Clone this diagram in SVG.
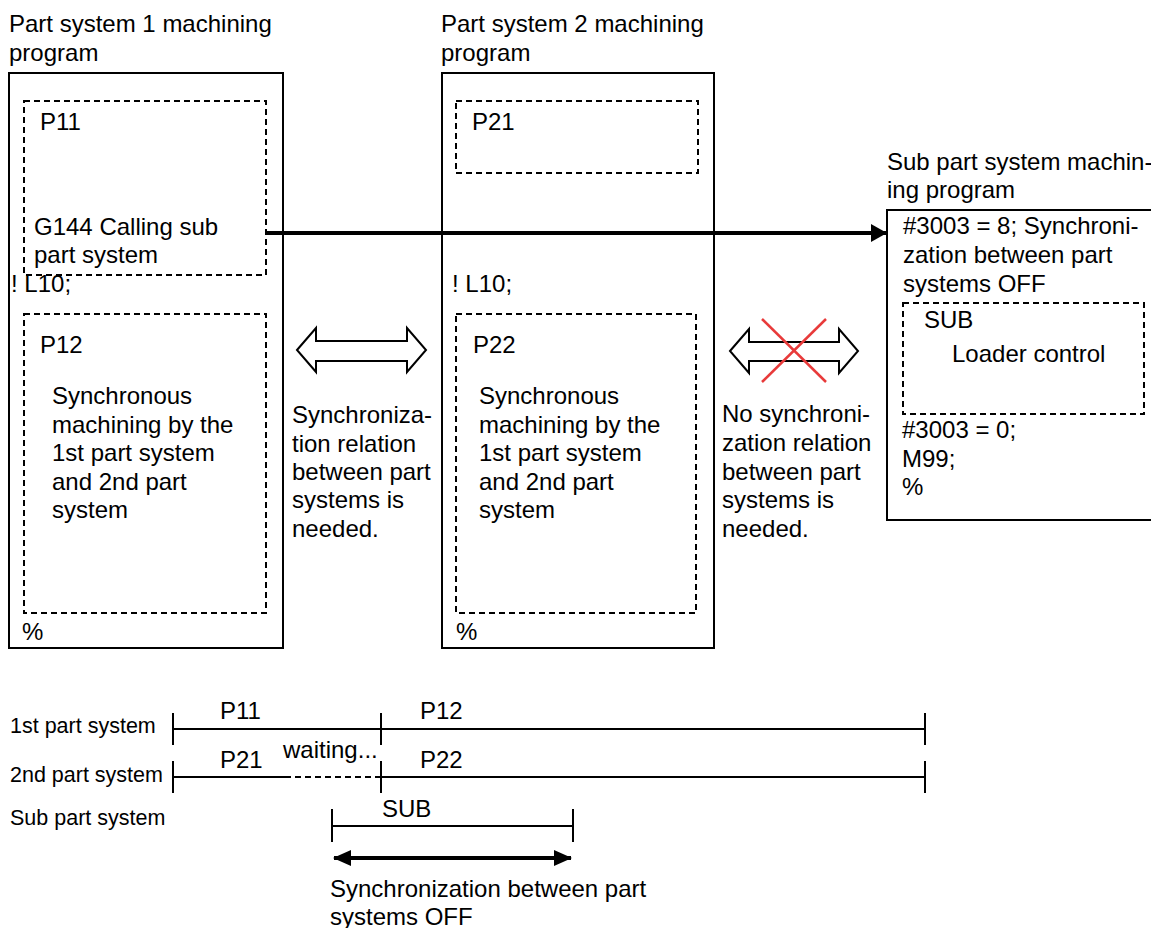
<svg xmlns="http://www.w3.org/2000/svg" width="1151" height="928" viewBox="0 0 1151 928">
<defs>
<style>
text{font-family:"Liberation Sans",Arial,sans-serif;font-size:24px;fill:#000}
.sm{font-size:21.5px}
.box{fill:none;stroke:#000;stroke-width:2}
.dash{fill:none;stroke:#000;stroke-width:2;stroke-dasharray:6 4}
.ln{fill:none;stroke:#000;stroke-width:2}
.hollow{fill:#fff;stroke:#000;stroke-width:2;stroke-linejoin:miter}
.x{stroke:#e83a3a;stroke-width:2.5}
</style>
<marker id="ah" markerWidth="16" markerHeight="18" refX="16" refY="9" orient="auto" markerUnits="userSpaceOnUse">
<path d="M0,0 L16,9 L0,18 Z" fill="#000"/>
</marker>
<marker id="ah2" markerWidth="18" markerHeight="16" refX="17" refY="8" orient="auto-start-reverse" markerUnits="userSpaceOnUse">
<path d="M0,0 L18,8 L0,16 Z" fill="#000"/>
</marker>
</defs>
<rect width="1151" height="928" fill="#fff"/>

<g id="prog1">
<text x="9" y="32">Part system 1 machining</text>
<text x="9" y="61">program</text>
<rect class="box" x="9" y="73" width="274" height="575"/>
<g id="p11">
<rect class="dash" x="24" y="101" width="242" height="174"/>
<text x="40" y="130">P11</text>
<text x="34" y="235">G144 Calling sub</text>
<text x="34" y="263">part system</text>
</g>
<text x="11" y="292">! L10;</text>
<g id="p12">
<rect class="dash" x="24" y="314" width="242" height="299"/>
<text x="40" y="353">P12</text>
<text x="52" y="404">Synchronous</text>
<text x="52" y="433">machining by the</text>
<text x="52" y="461">1st part system</text>
<text x="52" y="490">and 2nd part</text>
<text x="52" y="518">system</text>
</g>
<text x="22" y="640">%</text>
</g>

<g id="prog2">
<text x="441" y="32">Part system 2 machining</text>
<text x="441" y="61">program</text>
<rect class="box" x="442" y="73" width="272" height="575"/>
<g id="p21">
<rect class="dash" x="456" y="101" width="242" height="72"/>
<text x="472" y="130">P21</text>
</g>
<text x="452" y="292">! L10;</text>
<g id="p22">
<rect class="dash" x="456" y="314" width="240" height="299"/>
<text x="473" y="353">P22</text>
<text x="479" y="404">Synchronous</text>
<text x="479" y="433">machining by the</text>
<text x="479" y="461">1st part system</text>
<text x="479" y="490">and 2nd part</text>
<text x="479" y="518">system</text>
</g>
<text x="456" y="640">%</text>
</g>

<g id="subprog">
<text x="887" y="170">Sub part system machin-</text>
<text x="887" y="198">ing program</text>
<rect class="box" x="887" y="210" width="280" height="310"/>
<text x="903" y="234">#3003 = 8; Synchroni-</text>
<text x="903" y="263">zation between part</text>
<text x="903" y="292">systems OFF</text>
<g id="sub">
<rect class="dash" x="903" y="303" width="241" height="111"/>
<text x="924" y="328">SUB</text>
<text x="952" y="362">Loader control</text>
</g>
<text x="902" y="438">#3003 = 0;</text>
<text x="902" y="467">M99;</text>
<text x="902" y="495">%</text>
</g>

<g id="sync-needed">
<path class="hollow" d="M297,350 L316,328 L316,341 L407,341 L407,328 L426,350 L407,372 L407,361 L316,361 L316,372 Z"/>
<text x="292" y="423">Synchroniza-</text>
<text x="292" y="452">tion relation</text>
<text x="292" y="480">between part</text>
<text x="292" y="508">systems is</text>
<text x="292" y="537">needed.</text>
</g>

<g id="no-sync">
<path class="hollow" d="M730,351 L749,329 L749,342 L839,342 L839,329 L858,351 L839,373 L839,361 L749,361 L749,373 Z"/>
<line class="x" x1="762" y1="319" x2="826" y2="382"/>
<line class="x" x1="826" y1="319" x2="762" y2="382"/>
<text x="722" y="422">No synchroni-</text>
<text x="722" y="451">zation relation</text>
<text x="722" y="480">between part</text>
<text x="722" y="508">systems is</text>
<text x="722" y="537">needed.</text>
</g>

<g id="connectors">
<line x1="265" y1="233" x2="887" y2="233" stroke="#000" stroke-width="4" marker-end="url(#ah)"/>
</g>

<g id="timeline">
<text class="sm" x="10" y="733">1st part system</text>
<text class="sm" x="10" y="782">2nd part system</text>
<text class="sm" x="10" y="825">Sub part system</text>
<line class="ln" x1="173" y1="729" x2="925" y2="729"/>
<line class="ln" x1="173" y1="713" x2="173" y2="745"/>
<line class="ln" x1="381" y1="713" x2="381" y2="745"/>
<line class="ln" x1="925" y1="713" x2="925" y2="745"/>
<text x="220" y="719">P11</text>
<text x="420" y="719">P12</text>
<line class="ln" x1="173" y1="777" x2="285" y2="777"/>
<line class="ln" x1="285" y1="777" x2="381" y2="777" stroke-dasharray="6 4"/>
<line class="ln" x1="381" y1="777" x2="925" y2="777"/>
<line class="ln" x1="173" y1="761" x2="173" y2="793"/>
<line class="ln" x1="381" y1="761" x2="381" y2="793"/>
<line class="ln" x1="925" y1="761" x2="925" y2="793"/>
<text x="220" y="768">P21</text>
<text x="283" y="758">waiting...</text>
<text x="420" y="768">P22</text>
<line class="ln" x1="332" y1="826" x2="573" y2="826"/>
<line class="ln" x1="332" y1="809" x2="332" y2="842"/>
<line class="ln" x1="573" y1="809" x2="573" y2="842"/>
<text x="382" y="817">SUB</text>
<line x1="334" y1="858" x2="571" y2="858" stroke="#000" stroke-width="4" marker-start="url(#ah2)" marker-end="url(#ah2)"/>
<text x="330" y="897">Synchronization between part</text>
<text x="330" y="925">systems OFF</text>
</g>
</svg>
